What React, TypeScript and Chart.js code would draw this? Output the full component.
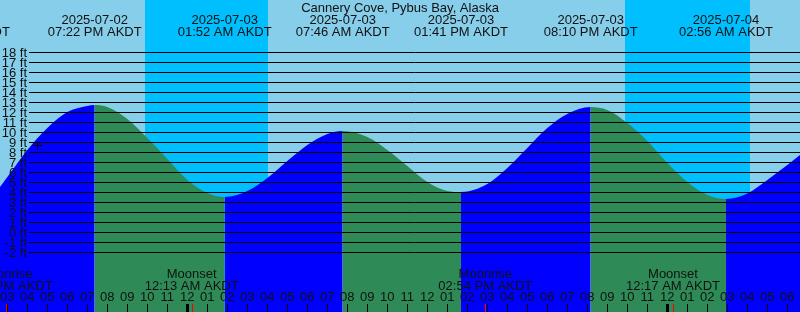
import React, { useEffect, useRef } from "react";
import { Chart, registerables } from "chart.js";

Chart.register(...registerables);

if (typeof document !== "undefined") {
  document.body.style.margin = "0";
}

// Time axis: hours counted from 2025-07-02 15:00 AKDT
const X_MIN = -0.3667;
const X_MAX = 39.6333;
const Y_MIN = -8;
const Y_MAX = 23.2;

const TITLE = "Cannery Cove, Pybus Bay, Alaska";

// Tide curve readings (hours, feet)
const tideHours = [
  -2.22, -1, 0, 1, 2, 3, 4, 4.367, 5, 6, 7, 8, 9, 10, 10.867, 12, 13, 14, 15, 16,
  16.767, 18, 19, 20, 21, 22, 22.683, 24, 25, 26, 27, 28, 29.167, 30, 31, 32, 33,
  34, 35, 35.933, 37, 38, 39, 40, 41.9,
];
const tideFeet = [
  2.2, 3.0, 5.5, 8.2, 10.4, 12.0, 12.6, 12.7, 12.5, 11.3, 9.4, 7.3, 5.2, 3.9, 3.5,
  4.1, 5.4, 7.1, 8.7, 9.8, 10.1, 9.5, 8.2, 6.6, 5.0, 4.1, 4.0, 4.8, 6.4, 8.4, 10.4,
  11.8, 12.5, 12.2, 10.9, 9.1, 6.9, 5.0, 3.7, 3.3, 3.85, 5.2, 6.7, 8.2, 10.0,
];

// High / low tide events shown at the top
const eventHours = [-2.22, 4.367, 10.867, 16.767, 22.683, 29.167, 35.933];
const eventDates = [
  "2025-07-02", "2025-07-02", "2025-07-03", "2025-07-03", "2025-07-03", "2025-07-03", "2025-07-04",
];
const eventTimes = [
  "12:47 PM AKDT", "07:22 PM AKDT", "01:52 AM AKDT", "07:46 AM AKDT", "01:41 PM AKDT",
  "08:10 PM AKDT", "02:56 AM AKDT",
];

// Night bands (sunset -> sunrise)
const nightStarts = [6.883, 30.883];
const nightEnds = [13.033, 37.133];

// Moon events
const moonHours = [-0.083, 9.217, 23.9, 33.283];
const moonNames = ["Moonrise", "Moonset", "Moonrise", "Moonset"];
const moonTimes = ["02:55 PM AKDT", "12:13 AM AKDT", "02:54 PM AKDT", "12:17 AM AKDT"];

// Hour ticks along the bottom
const tickHours = Array.from({ length: 40 }, (_, i) => i);
const tickLabels = [
  "03", "04", "05", "06", "07", "08", "09", "10", "11", "12", "01", "02", "03", "04", "05",
  "06", "07", "08", "09", "10", "11", "12", "01", "02", "03", "04", "05", "06", "07", "08",
  "09", "10", "11", "12", "01", "02", "03", "04", "05", "06",
];
const midnightHours = [9, 33];

// Horizontal foot levels
const footLevels = Array.from({ length: 21 }, (_, i) => i - 2);

// Datum marker
const markHour = [1.51];
const markFeet = [8.65];

const DAY = "#87CEEB";
const NIGHT = "#00BFFF";
const RISE = "#0000FF";
const FALL = "#2E8B57";
const FONT = '13px "Liberation Sans"';
const TEXT = "#111";

const tidePlugin = {
  id: "tideDecor",
  beforeDatasetsDraw(chart: any) {
    const { ctx, width, height, scales } = chart;
    const xs = scales.x;
    ctx.save();
    ctx.fillStyle = DAY;
    ctx.fillRect(0, 0, width, height);
    ctx.fillStyle = NIGHT;
    nightStarts.forEach((s, i) => {
      const x0 = Math.round(xs.getPixelForValue(s));
      const x1 = Math.round(xs.getPixelForValue(nightEnds[i]));
      ctx.fillRect(x0, 0, x1 - x0, height);
    });
    ctx.restore();
  },
  afterDatasetsDraw(chart: any) {
    const { ctx, width, scales } = chart;
    const xs = scales.x;
    const ys = scales.y;
    ctx.save();
    ctx.strokeStyle = "#000";
    ctx.lineWidth = 1;
    footLevels.forEach((v) => {
      const y = Math.round(ys.getPixelForValue(v)) + 0.5;
      ctx.beginPath();
      ctx.moveTo(29, y);
      ctx.lineTo(width, y);
      ctx.stroke();
    });
    ctx.fillStyle = TEXT;
    ctx.font = FONT;
    ctx.textBaseline = "alphabetic";
    ctx.textAlign = "right";
    footLevels.forEach((v) => {
      const y = Math.round(ys.getPixelForValue(v));
      ctx.fillText(`${v} ft`, 27, y + 5);
    });
    ctx.textAlign = "center";
    ctx.fillText(TITLE, 400, 12);
    eventHours.forEach((t, i) => {
      const x = xs.getPixelForValue(t);
      ctx.fillText(eventDates[i], x, 24);
      ctx.fillText(eventTimes[i], x, 36);
    });
    moonHours.forEach((t, i) => {
      const x = xs.getPixelForValue(t);
      ctx.fillText(moonNames[i], x, 278);
      ctx.fillText(moonTimes[i], x, 290);
    });
    tickHours.forEach((t, i) => {
      const x = xs.getPixelForValue(t);
      ctx.fillText(tickLabels[i], x, 301);
    });
    ctx.fillStyle = "#000";
    tickHours.forEach((t) => {
      const x = xs.getPixelForValue(t);
      ctx.fillRect(Math.round(x), 304, 1, 8);
    });
    midnightHours.forEach((t) => {
      const x = Math.round(xs.getPixelForValue(t));
      ctx.fillRect(x - 1, 304, 3, 8);
    });
    ctx.fillStyle = "#FF0000";
    moonHours.forEach((t) => {
      const x = Math.round(xs.getPixelForValue(t));
      ctx.fillRect(x, 304, 1, 8);
    });
    ctx.restore();
  },
};

export default function App() {
  const canvasRef = useRef<HTMLCanvasElement | null>(null);

  useEffect(() => {
    document.body.style.margin = "0";
    const canvas = canvasRef.current;
    if (!canvas) return;
    const chart = new Chart(canvas, {
      type: "line",
      data: {
        datasets: [
          {
            label: "tide",
            order: 2,
            data: tideHours.map((t, i) => ({ x: t, y: tideFeet[i] })),
            borderWidth: 0,
            borderColor: "rgba(0,0,0,0)",
            backgroundColor: RISE,
            pointRadius: 0,
            fill: "start",
            cubicInterpolationMode: "monotone",
            segment: {
              backgroundColor: (c: any) => (c.p1.parsed.y >= c.p0.parsed.y ? RISE : FALL),
            },
          } as any,
          {
            label: "mark",
            order: 1,
            data: markHour.map((t, i) => ({ x: t, y: markFeet[i] })),
            showLine: false,
            pointStyle: "cross",
            pointRadius: 4.5,
            pointBorderWidth: 1,
            pointBorderColor: "#000",
            pointBackgroundColor: "#000",
            fill: false,
          } as any,
        ],
      },
      options: {
        responsive: false,
        maintainAspectRatio: false,
        animation: false,
        layout: { padding: 0, autoPadding: false },
        plugins: {
          legend: { display: false },
          tooltip: { enabled: false },
          title: { display: false },
        },
        scales: {
          x: { type: "linear", min: X_MIN, max: X_MAX, display: false },
          y: { type: "linear", min: Y_MIN, max: Y_MAX, display: false },
        },
      },
      plugins: [tidePlugin],
    });
    return () => chart.destroy();
  }, []);

  return (
    <div style={{ position: "fixed", left: 0, top: 0, width: 800, height: 312 }}>
      <canvas ref={canvasRef} width={800} height={312} style={{ display: "block", width: 800, height: 312 }} />
    </div>
  );
}
